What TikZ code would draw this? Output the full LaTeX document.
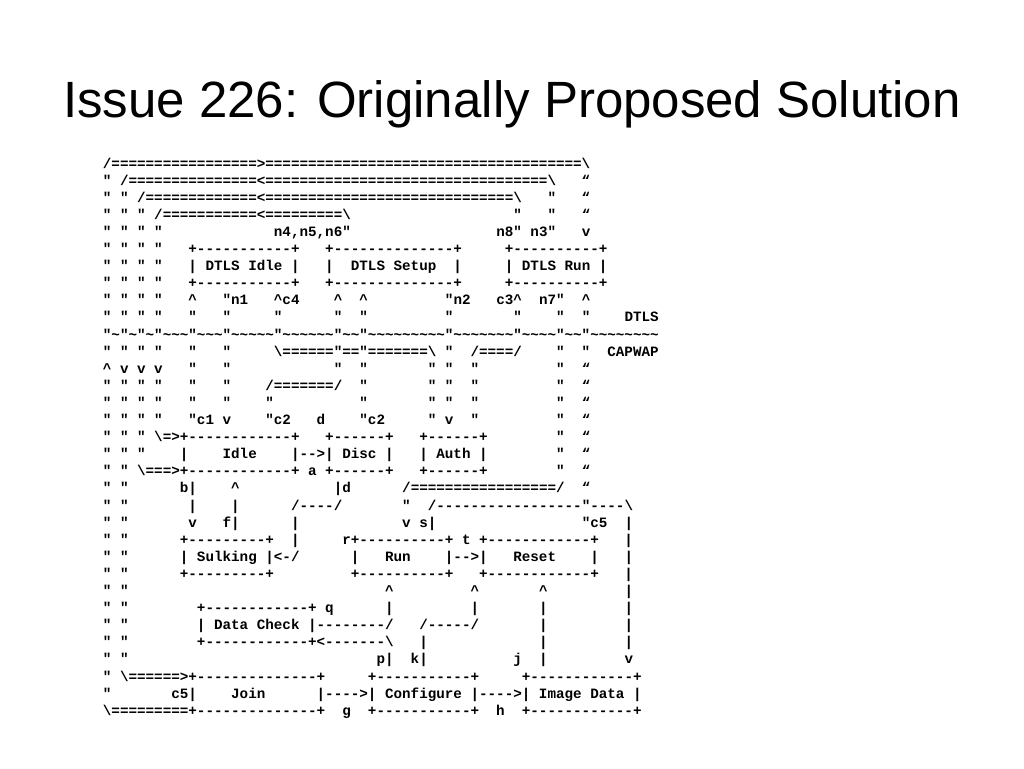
\documentclass[tikz,border=0pt]{standalone}
\usepackage{fontspec}
\setmonofont{Liberation Mono}
\newfontfamily\titlefont{Liberation Sans}
\usetikzlibrary{positioning}

\ExplSyntaxOn
\cs_new:Npn \asr #1#2 { \prg_replicate:nn {#1} {#2} }
\ExplSyntaxOff
\newcommand\asp[1]{\asr{#1}{\ }}
\newcommand\bsl{\textbackslash}
\newcommand\tld{\textasciitilde}
\newcommand\crt{\textasciicircum}

\begin{document}
\begin{tikzpicture}[x=1pt, y=-1pt,
    ascii/.style = {
        font=\ttfamily\bfseries\fontsize{14.25}{17}\selectfont,
        anchor=base west,
        inner sep=0pt
    },
    slide title/.style = {
        font=\titlefont\fontsize{51}{60}\selectfont,
        anchor=base,
        inner sep=0pt
    },
    next line/.style = {ascii, yshift=-17.1pt}
]

\path[fill=white, use as bounding box] (0,0) rectangle (1024,768);

\node[slide title] (title) at (512,117) {Issue 226: Originally Proposed Solution};

\node[ascii] (l1) at (102.7,168) {/\asr{17}{=}>\asr{37}{=}\bsl};
\node[next line] (l2) at (l1.base west) {"~/\asr{15}{=}<\asr{33}{=}\bsl\asp{3}“};
\node[next line] (l3) at (l2.base west) {"~"~/\asr{13}{=}<\asr{29}{=}\bsl\asp{3}"\asp{3}“};
\node[next line] (l4) at (l3.base west) {"~"~"~/\asr{11}{=}<\asr{9}{=}\bsl\asp{19}"\asp{3}"\asp{3}“};
\node[next line] (l5) at (l4.base west) {"~"~"~"\asp{13}n4,n5,n6"\asp{17}n8"~n3"\asp{3}v};
\node[next line] (l6) at (l5.base west) {"~"~"~"\asp{3}+\asr{11}{-}+\asp{3}+\asr{14}{-}+\asp{5}+\asr{10}{-}+};
\node[next line] (l7) at (l6.base west) {"~"~"~"\asp{3}|~DTLS~Idle~|\asp{3}|\asp{2}DTLS~Setup\asp{2}|\asp{5}|~DTLS~Run~|};
\node[next line] (l8) at (l7.base west) {"~"~"~"\asp{3}+\asr{11}{-}+\asp{3}+\asr{14}{-}+\asp{5}+\asr{10}{-}+};
\node[next line] (l9) at (l8.base west) {"~"~"~"\asp{3}\crt\asp{3}"n1\asp{3}\crt{}c4\asp{4}\crt\asp{2}\crt\asp{9}"n2\asp{3}c3\crt\asp{2}n7"\asp{2}\crt};
\node[next line] (l10) at (l9.base west) {"~"~"~"\asp{3}"\asp{3}"\asp{5}"\asp{6}"\asp{2}"\asp{9}"\asp{7}"\asp{4}"\asp{2}"\asp{4}DTLS};
\node[next line] (l11) at (l10.base west) {"\tld"\tld"\tld"\asr{3}{\tld}"\asr{3}{\tld}"\asr{5}{\tld}"\asr{6}{\tld}"\asr{2}{\tld}"\asr{9}{\tld}"\asr{7}{\tld}"\asr{4}{\tld}"\asr{2}{\tld}"\asr{8}{\tld}};
\node[next line] (l12) at (l11.base west) {"~"~"~"\asp{3}"\asp{3}"\asp{5}\bsl\asr{6}{=}"=="\asr{7}{=}\bsl~"\asp{2}/====/\asp{4}"\asp{2}"\asp{2}CAPWAP};
\node[next line] (l13) at (l12.base west) {\crt~v~v~v\asp{3}"\asp{3}"\asp{12}"\asp{2}"\asp{7}"~"\asp{2}"\asp{9}"\asp{2}“};
\node[next line] (l14) at (l13.base west) {"~"~"~"\asp{3}"\asp{3}"\asp{4}/\asr{7}{=}/\asp{2}"\asp{7}"~"\asp{2}"\asp{9}"\asp{2}“};
\node[next line] (l15) at (l14.base west) {"~"~"~"\asp{3}"\asp{3}"\asp{4}"\asp{10}"\asp{7}"~"\asp{2}"\asp{9}"\asp{2}“};
\node[next line] (l16) at (l15.base west) {"~"~"~"\asp{3}"c1~v\asp{4}"c2\asp{3}d\asp{4}"c2\asp{5}"~v\asp{2}"\asp{9}"\asp{2}“};
\node[next line] (l17) at (l16.base west) {"~"~"~\bsl=>+\asr{12}{-}+\asp{3}+\asr{6}{-}+\asp{3}+\asr{6}{-}+\asp{8}"\asp{2}“};
\node[next line] (l18) at (l17.base west) {"~"~"\asp{4}|\asp{4}Idle\asp{4}|-->|~Disc~|\asp{3}|~Auth~|\asp{8}"\asp{2}“};
\node[next line] (l19) at (l18.base west) {"~"~\bsl===>+\asr{12}{-}+~a~+\asr{6}{-}+\asp{3}+\asr{6}{-}+\asp{8}"\asp{2}“};
\node[next line] (l20) at (l19.base west) {"~"\asp{6}b|\asp{4}\crt\asp{11}|d\asp{6}/\asr{17}{=}/\asp{2}“};
\node[next line] (l21) at (l20.base west) {"~"\asp{7}|\asp{4}|\asp{6}/----/\asp{7}"\asp{2}/\asr{17}{-}"----\bsl};
\node[next line] (l22) at (l21.base west) {"~"\asp{7}v\asp{3}f|\asp{6}|\asp{12}v~s|\asp{17}"c5\asp{2}|};
\node[next line] (l23) at (l22.base west) {"~"\asp{6}+\asr{9}{-}+\asp{2}|\asp{5}r+\asr{10}{-}+~t~+\asr{12}{-}+\asp{3}|};
\node[next line] (l24) at (l23.base west) {"~"\asp{6}|~Sulking~|<-/\asp{6}|\asp{3}Run\asp{4}|-->|\asp{3}Reset\asp{4}|\asp{3}|};
\node[next line] (l25) at (l24.base west) {"~"\asp{6}+\asr{9}{-}+\asp{9}+\asr{10}{-}+\asp{3}+\asr{12}{-}+\asp{3}|};
\node[next line] (l26) at (l25.base west) {"~"\asp{30}\crt\asp{9}\crt\asp{7}\crt\asp{9}|};
\node[next line] (l27) at (l26.base west) {"~"\asp{8}+\asr{12}{-}+~q\asp{6}|\asp{9}|\asp{7}|\asp{9}|};
\node[next line] (l28) at (l27.base west) {"~"\asp{8}|~Data~Check~|\asr{8}{-}/\asp{3}/\asr{5}{-}/\asp{7}|\asp{9}|};
\node[next line] (l29) at (l28.base west) {"~"\asp{8}+\asr{12}{-}+<\asr{7}{-}\bsl\asp{3}|\asp{13}|\asp{9}|};
\node[next line] (l30) at (l29.base west) {"~"\asp{29}p|\asp{2}k|\asp{10}j\asp{2}|\asp{9}v};
\node[next line] (l31) at (l30.base west) {"~\bsl\asr{6}{=}>+\asr{14}{-}+\asp{5}+\asr{11}{-}+\asp{5}+\asr{12}{-}+};
\node[next line] (l32) at (l31.base west) {"\asp{7}c5|\asp{4}Join\asp{6}|---->|~Configure~|---->|~Image~Data~|};
\node[next line] (l33) at (l32.base west) {\bsl\asr{9}{=}+\asr{14}{-}+\asp{2}g\asp{2}+\asr{11}{-}+\asp{2}h\asp{2}+\asr{12}{-}+};

\end{tikzpicture}
\end{document}
